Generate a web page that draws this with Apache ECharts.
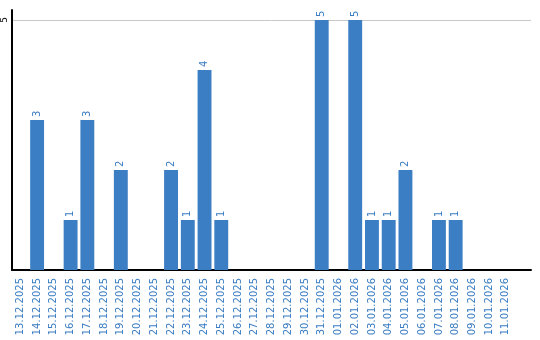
<!DOCTYPE html>
<html>
<head>
<meta charset="utf-8">
<script src="https://cdn.jsdelivr.net/npm/echarts@6/dist/echarts.min.js"></script>
<style>html,body{margin:0;padding:0;background:#fff}#c{width:540px;height:340px}</style>
</head>
<body>
<div id="c"></div>
<script>
const categories = ["13.12.2025","14.12.2025","15.12.2025","16.12.2025","17.12.2025","18.12.2025","19.12.2025","20.12.2025","21.12.2025","22.12.2025","23.12.2025","24.12.2025","25.12.2025","26.12.2025","27.12.2025","28.12.2025","29.12.2025","30.12.2025","31.12.2025","01.01.2026","02.01.2026","03.01.2026","04.01.2026","05.01.2026","06.01.2026","07.01.2026","08.01.2026","09.01.2026","10.01.2026","11.01.2026"];
const values = [0,3,0,1,3,0,2,0,0,2,1,4,1,0,0,0,0,0,5,0,5,1,1,2,0,1,1,0,0,0];
const yTicks = [0,5];

const chart = echarts.init(document.getElementById('c'), null, {renderer:'canvas'});
chart.setOption({
  animation:false,
  grid:{left:10,right:9,top:10,bottom:70,containLabel:false},
  xAxis:{
    type:'category',
    data:categories,
    max:30,
    axisLine:{lineStyle:{color:'#000',width:2}},
    axisTick:{show:false},
    axisLabel:{rotate:90,interval:0,color:'#3a7cc2',fontFamily:'DejaVu Sans',fontSize:10,margin:8}
  },
  yAxis:{
    type:'value',
    min:yTicks[0],max:5.2,interval:yTicks[1]-yTicks[0],
    axisLine:{show:true,lineStyle:{color:'#000',width:2}},
    axisTick:{show:false},
    splitLine:{showMaxLine:false,showMinLine:false,lineStyle:{color:'#c8c8c8',width:1}},
    axisLabel:{rotate:90,color:'#000',fontFamily:'DejaVu Sans',fontSize:9,margin:3,showMaxLabel:false,
      formatter:v=>yTicks.indexOf(v)>0?String(v):''}
  },
  series:[{
    type:'bar',
    data:values.map(v=>v===0?null:v),
    barCategoryGap:'17%',
    itemStyle:{color:'#3b7ec4'},
    label:{show:true,position:'top',rotate:90,align:'left',verticalAlign:'middle',distance:3,
      color:'#3a7cc2',fontFamily:'DejaVu Sans',fontSize:10}
  }]
});
</script>
</body>
</html>
